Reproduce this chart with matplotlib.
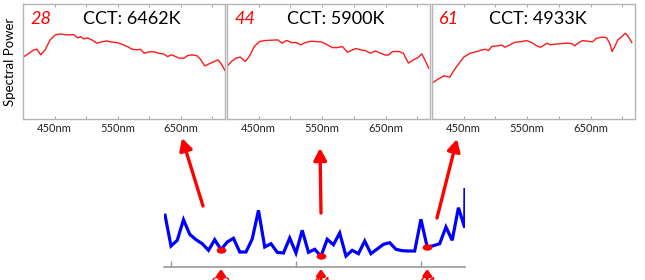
import matplotlib
matplotlib.use("Agg")
import matplotlib.pyplot as plt
from matplotlib.path import Path
from matplotlib.transforms import Affine2D
import numpy as np

plt.rcParams['font.family'] = ['Lato', 'DejaVu Sans']

# ---------------- data ----------------
sample_ids = [28, 44, 61]
cct_labels = ["CCT: 6462K", "CCT: 5900K", "CCT: 4933K"]

wl_28 = [400, 406, 417, 422, 428, 435, 443, 451, 459, 470, 480, 487, 491, 496, 502, 509,
         517, 525, 533, 541, 549, 557, 565, 573, 581, 586, 592, 600, 608, 615, 623, 629,
         635, 642, 647, 655, 661, 668, 676, 681, 688, 695, 703, 709, 714, 720]
spd_28 = [0.538, 0.558, 0.601, 0.607, 0.558, 0.601, 0.688, 0.731, 0.740, 0.731, 0.734,
          0.705, 0.717, 0.697, 0.705, 0.688, 0.659, 0.671, 0.679, 0.668, 0.665, 0.650,
          0.630, 0.607, 0.601, 0.607, 0.572, 0.584, 0.584, 0.572, 0.564, 0.543, 0.558,
          0.543, 0.529, 0.529, 0.552, 0.558, 0.549, 0.520, 0.462, 0.480, 0.500, 0.514,
          0.480, 0.422]

wl_44 = [400, 407, 414, 421, 429, 435, 443, 451, 459, 469, 480, 487, 492, 495, 501, 509,
         516, 524, 532, 542, 550, 558, 566, 574, 582, 590, 598, 603, 611, 618, 626, 634,
         642, 650, 655, 661, 671, 678, 686, 694, 702, 707, 712, 718]
spd_44 = [0.457, 0.500, 0.529, 0.538, 0.500, 0.543, 0.630, 0.673, 0.682, 0.685, 0.688,
          0.659, 0.679, 0.682, 0.665, 0.665, 0.645, 0.665, 0.676, 0.673, 0.668, 0.645,
          0.621, 0.621, 0.630, 0.581, 0.601, 0.613, 0.601, 0.595, 0.572, 0.592, 0.572,
          0.555, 0.558, 0.587, 0.587, 0.572, 0.486, 0.514, 0.538, 0.566, 0.514, 0.442]

wl_61 = [400, 408, 419, 428, 437, 450, 460, 471, 479, 484, 489, 494, 502, 510, 515, 523,
         531, 539, 549, 557, 565, 571, 578, 582, 586, 593, 604, 614, 620, 625, 630, 637,
         646, 653, 659, 667, 675, 680, 684, 688, 693, 698, 705, 710, 715]
spd_61 = [0.312, 0.341, 0.376, 0.364, 0.442, 0.538, 0.572, 0.587, 0.601, 0.607, 0.595,
          0.630, 0.636, 0.642, 0.624, 0.645, 0.668, 0.671, 0.682, 0.665, 0.636, 0.624,
          0.647, 0.659, 0.645, 0.650, 0.656, 0.659, 0.656, 0.636, 0.659, 0.682, 0.676,
          0.671, 0.702, 0.711, 0.708, 0.659, 0.587, 0.630, 0.688, 0.711, 0.746, 0.711,
          0.665]

wl_ticks = [450, 500, 550, 600, 650, 700]
wl_ticklabels = ["450nm", "", "550nm", "", "650nm", ""]

idx = list(range(19, 69))
metric = [53.3, 21.0, 26.7, 47.3, 32.7, 27.3, 23.3, 16.7, 27.3, 17.3,
          25.0, 28.7, 15.0, 15.0, 28.0, 56.7, 20.0, 23.3, 14.7, 14.0,
          29.0, 14.0, 36.7, 14.7, 17.7, 10.7, 27.7, 22.3, 34.0, 11.0,
          16.7, 13.3, 26.0, 13.3, 18.0, 22.7, 24.3, 17.7, 16.3, 16.0,
          16.0, 47.7, 20.0, 21.3, 23.3, 40.0, 26.7, 59.3, 39.3, 850.0]
idx_ticks = [20, 40, 60]

# ---------------- figure ----------------
W, H = 645, 280
fig = plt.figure(figsize=(W / 100, H / 100), dpi=100)

def rect(x0, y0, x1, y1):
    return [x0 / W, (H - y1) / H, (x1 - x0) / W, (y1 - y0) / H]

panels = [(23, 225), (227, 430), (432, 635)]
wls = [wl_28, wl_44, wl_61]
spds = [spd_28, spd_44, spd_61]
frame_col = "#b4b4b4"
for k, (x0, x1) in enumerate(panels):
    ax = fig.add_axes(rect(x0, 4, x1, 119))
    ax.plot(wls[k], spds[k], color="#ff1a1a", lw=1.0)
    ax.set_xlim(400, 720)
    ax.set_ylim(0, 1)
    for s in ax.spines.values():
        s.set_color(frame_col)
        s.set_linewidth(1.0)
    ax.set_xticks(wl_ticks)
    ax.set_xticklabels(wl_ticklabels, fontsize=8, color="#222222")
    ax.set_yticks([])
    ax.tick_params(axis='x', direction='in', length=2, width=0.6, color="#999999",
                   top=True, pad=3)
    ax.text(0.035, 0.87, str(sample_ids[k]), transform=ax.transAxes, color="red",
            fontsize=13, fontstyle='italic', va='center', ha='left')
    ax.text(0.295 if k < 2 else 0.28, 0.87, cct_labels[k], transform=ax.transAxes,
            color="black", fontsize=13, va='center', ha='left')
    if k == 0:
        ax.set_ylabel("Spectral Power", fontsize=9.5, labelpad=5)

# bottom metric chart
axb = fig.add_axes(rect(164, 188, 465, 267))
axb.plot(idx, metric, color="#0000ff", lw=2.3, solid_joinstyle='miter',
         solid_capstyle='butt')
ell = Path.unit_circle().transformed(Affine2D().scale(1.0, 0.6))
for s in sample_ids:
    axb.plot([s], [metric[idx.index(s)]], marker=ell, color="red", ms=6, ls='none',
             zorder=3)
axb.set_xlim(18.88, 67.05)
axb.set_ylim(0, 79)
for side in ['top', 'right', 'left']:
    axb.spines[side].set_visible(False)
axb.spines['bottom'].set_color("#999999")
axb.spines['bottom'].set_linewidth(1.2)
axb.set_xticks(idx_ticks)
axb.set_xticklabels([])
axb.set_yticks([])
axb.tick_params(axis='x', direction='in', length=4, width=1, color="#999999")

# small red arrows and labels under the axis
for s in sample_ids:
    axb.annotate("", xy=(s, -2), xytext=(s, -16), xycoords='data',
                 textcoords='data', annotation_clip=False,
                 arrowprops=dict(arrowstyle="-|>,head_length=0.35,head_width=0.25",
                                 color="red", lw=2.2, shrinkA=0, shrinkB=0))
    axb.annotate(str(s), xy=(s, 0), xycoords='data', xytext=(0, -10),
                 textcoords='offset pixels', ha='center', va='top',
                 color="red", fontsize=13, annotation_clip=False)

# big red arrows from bottom chart toward panels (figure pixels)
big_arrows = [((203, 206), (182, 138)), ((321, 213), (320, 148)), ((437, 218), (457, 139))]
for (x0, y0), (x1, y1) in big_arrows:
    fig.add_artist(matplotlib.patches.FancyArrowPatch(
        (x0 / W, (H - y0) / H), (x1 / W, (H - y1) / H), transform=fig.transFigure,
        arrowstyle="-|>,head_length=0.6,head_width=0.32", color="red", lw=2.4,
        shrinkA=0, shrinkB=0, mutation_scale=12))

fig.savefig("out.png", dpi=100)
